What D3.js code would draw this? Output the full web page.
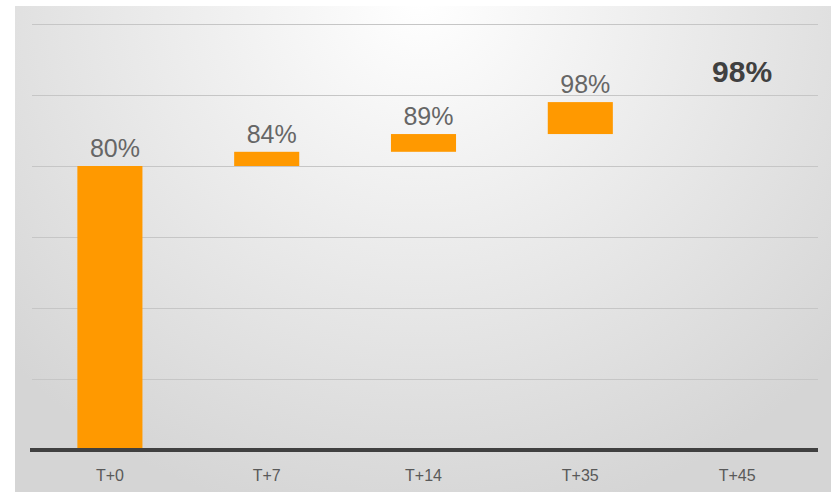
<!DOCTYPE html>
<html>
<head>
<meta charset="utf-8">
<script src="https://cdn.jsdelivr.net/npm/d3@7"></script>
<style>
  html, body { margin: 0; padding: 0; background: #ffffff; }
  svg { display: block; }
</style>
</head>
<body>
<script>
// ---- data ----
const categories = ["T+0", "T+7", "T+14", "T+35", "T+45"];
const cumulative = [80, 84, 89, 98, 98];      // running total after each step (%)
const stepStart  = [0, 80, 84, 89, 0];        // where each floating bar starts (%)
const barVisible = [true, true, true, true, false];
const valueLabels = ["80%", "84%", "89%", "98%", "98%"];
const gridTicks = [20, 40, 60, 80, 100, 120];

const W = 831, H = 492;
const svg = d3.select("body").append("svg").attr("width", W).attr("height", H);

// background gradient
const defs = svg.append("defs");
const grad = defs.append("radialGradient").attr("id", "bg")
  .attr("gradientUnits", "userSpaceOnUse")
  .attr("cx", 420).attr("cy", 0).attr("r", 560)
  .attr("fx", 420).attr("fy", 0)
  .attr("gradientTransform", "translate(420,0) scale(1,0.95) translate(-420,0)");
grad.append("stop").attr("offset", "0%").attr("stop-color", "#ffffff");
grad.append("stop").attr("offset", "45%").attr("stop-color", "#ececec");
grad.append("stop").attr("offset", "100%").attr("stop-color", "#d5d5d5");
svg.append("rect").attr("x", 15).attr("y", 6).attr("width", W - 15).attr("height", H - 6)
  .attr("fill", "url(#bg)");

const x = d3.scaleBand().domain(categories).range([31.5, 815.5])
  .paddingInner(0.585).paddingOuter(0.2925);
const y = d3.scaleLinear().domain([0, 120]).range([450, 24]);

// gridlines
svg.append("g").selectAll("line").data(gridTicks).join("line")
  .attr("x1", 32).attr("x2", 818)
  .attr("y1", d => Math.round(y(d)) + 0.5).attr("y2", d => Math.round(y(d)) + 0.5)
  .attr("stroke", "#c6c6c6").attr("stroke-width", 1);

const rows = categories.map((c, i) => ({
  c, start: stepStart[i], end: cumulative[i], vis: barVisible[i], label: valueLabels[i], total: !barVisible[i]
}));

// bars
svg.append("g").selectAll("rect").data(rows.filter(d => d.vis)).join("rect")
  .attr("x", d => x(d.c))
  .attr("width", x.bandwidth())
  .attr("y", d => y(d.end))
  .attr("height", d => y(d.start) - y(d.end))
  .attr("fill", "#ff9900");

// baseline axis
svg.append("line").attr("x1", 30).attr("x2", 818)
  .attr("y1", y(0)).attr("y2", y(0))
  .attr("stroke", "#404040").attr("stroke-width", 4);

// x-axis labels via d3 axis
const xAxis = svg.append("g").attr("transform", `translate(0, ${y(0)})`)
  .call(d3.axisBottom(x).tickSize(0).tickPadding(20));
xAxis.select(".domain").remove();
xAxis.selectAll("text")
  .attr("font-family", "'Liberation Sans', Arial, sans-serif")
  .attr("font-size", 16).attr("fill", "#595959");

// value labels
svg.append("g").selectAll("text").data(rows).join("text")
  .attr("x", d => x(d.c) + x.bandwidth() / 2 + 5)
  .attr("y", d => y(d.end) - (d.total ? 20 : 9))
  .attr("text-anchor", "middle")
  .attr("font-family", "'Liberation Sans', Arial, sans-serif")
  .attr("font-size", d => d.total ? 30 : 25)
  .attr("font-weight", d => d.total ? "bold" : "normal")
  .attr("fill", d => d.total ? "#404040" : "#666666")
  .text(d => d.label);
</script>
</body>
</html>
